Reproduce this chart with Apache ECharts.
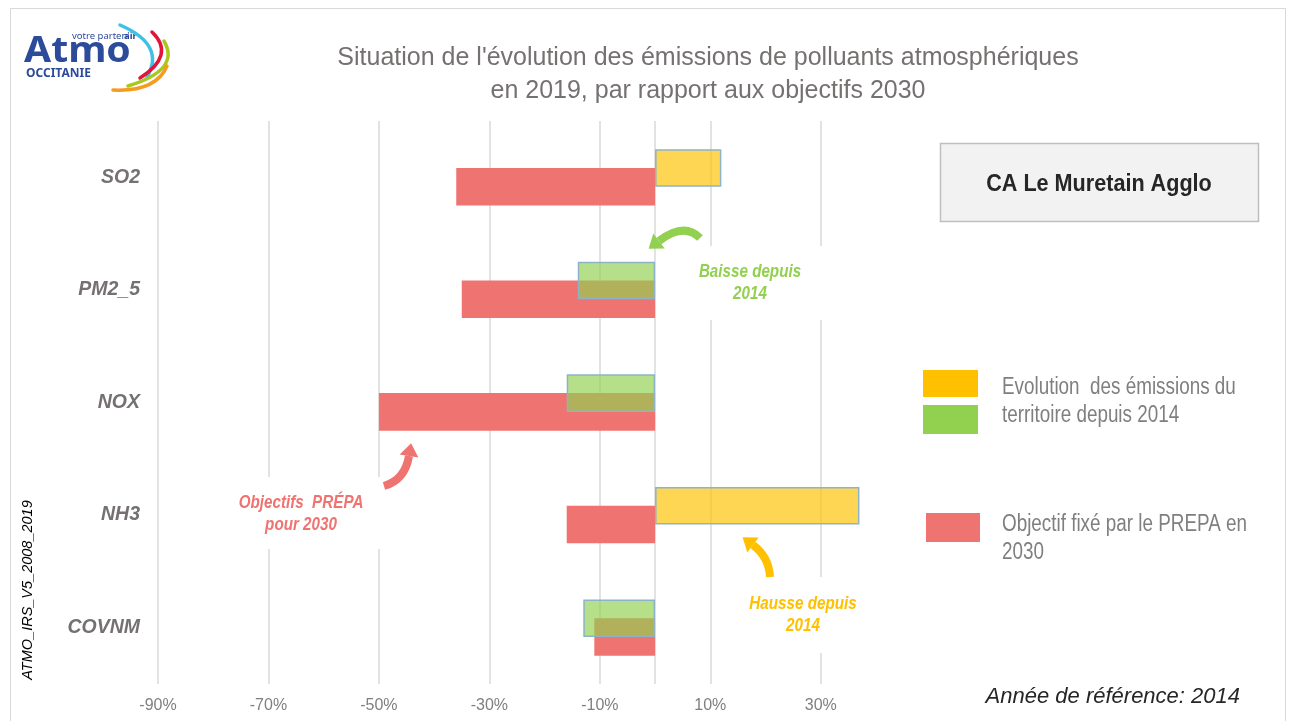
<!DOCTYPE html>
<html>
<head>
<meta charset="utf-8">
<script src="https://cdn.jsdelivr.net/npm/echarts@6/dist/echarts.min.js"></script>
<style>
html,body{margin:0;padding:0;background:#fff;}
#chart{width:1295px;height:721px;}
</style>
</head>
<body>
<div id="chart"></div>
<script>
// ---- data ----
const categories = ['SO2', 'PM2_5', 'NOX', 'NH3', 'COVNM'];
const evolution = [12, -14, -16, 37, -13];      // % change since 2014
const objectif = [-36, -35, -50, -16, -11];     // PREPA 2030 objective
const axisMin = -90, axisMax = 40, axisStep = 20;

const FONT = "'Liberation Sans', Arial, sans-serif";
const YELLOW = '#FFC000', GREEN = '#92D050', RED = '#EF7370';

function arrow(tail, ctrl, end, color, width) {
  const dx = end[0] - ctrl[0], dy = end[1] - ctrl[1];
  const L = Math.hypot(dx, dy), ux = dx / L, uy = dy / L;
  const px = -uy, py = ux, hw = 9.5, hl = 13;
  return [
    { type: 'bezierCurve', silent: true, z: 6,
      shape: { x1: tail[0], y1: tail[1], cpx1: ctrl[0], cpy1: ctrl[1], x2: end[0], y2: end[1] },
      style: { stroke: color, lineWidth: width, fill: null } },
    { type: 'polygon', silent: true, z: 6,
      shape: { points: [[end[0] + ux * hl, end[1] + uy * hl], [end[0] + px * hw, end[1] + py * hw], [end[0] - px * hw, end[1] - py * hw]] },
      style: { fill: color } }
  ];
}

function whiteBox(x, y, w, h) {
  return { type: 'rect', silent: true, z: 1, shape: { x, y, width: w, height: h }, style: { fill: '#fff' } };
}
function label(x, y, text, color, size, opts, sx) {
  return { type: 'text', silent: true, z: 7, x, y, scaleX: sx || 1,
    style: Object.assign({ text, fill: color, fontSize: size, fontFamily: FONT, align: 'center', verticalAlign: 'middle' }, opts || {}) };
}
const annot = { fontWeight: 'bold', fontStyle: 'italic' };

const graphics = [
  { type: 'rect', silent: true, z: -1, shape: { x: 10.5, y: 8.5, width: 1275, height: 730 }, style: { fill: 'none', stroke: '#D9D9D9', lineWidth: 1 } },
  // logo
  { type: 'text', silent: true, x: 24, y: 52, scaleX: 1.12, style: { text: 'Atmo', fill: '#2D4B9B', fontSize: 35, fontWeight: 'bold', fontFamily: "'Noto Sans', sans-serif", verticalAlign: 'middle' } },
  { type: 'text', silent: true, x: 72, y: 36, style: { text: "votre parten'", fill: '#2D4B9B', fontSize: 9.5, fontFamily: "'Noto Sans', sans-serif", verticalAlign: 'middle' } },
  { type: 'text', silent: true, x: 124, y: 36, style: { text: 'air', fill: '#2D4B9B', fontSize: 9.5, fontWeight: 'bold', fontFamily: "'Noto Sans', sans-serif", verticalAlign: 'middle' } },
  { type: 'text', silent: true, x: 26, y: 74, style: { text: 'OCCITANIE', fill: '#2D4B9B', fontSize: 12, fontWeight: 'bold', fontFamily: "'Noto Sans', sans-serif", verticalAlign: 'middle' } },
  { type: 'bezierCurve', silent: true, shape: { x1: 120, y1: 25, cpx1: 166, cpy1: 45, x2: 147, y2: 77 }, style: { stroke: '#3EC1E8', lineWidth: 3.5, lineCap: 'round', fill: null } },
  { type: 'bezierCurve', silent: true, shape: { x1: 152, y1: 32, cpx1: 176, cpy1: 55, x2: 140, y2: 78 }, style: { stroke: '#E3143C', lineWidth: 3.5, lineCap: 'round', fill: null } },
  { type: 'bezierCurve', silent: true, shape: { x1: 164, y1: 41, cpx1: 181, cpy1: 70, x2: 128, y2: 86 }, style: { stroke: '#A8C81E', lineWidth: 3.5, lineCap: 'round', fill: null } },
  { type: 'bezierCurve', silent: true, shape: { x1: 167, y1: 66, cpx1: 156, cpy1: 92, x2: 113, y2: 90 }, style: { stroke: '#F59B1E', lineWidth: 3.5, lineCap: 'round', fill: null } },
  // territory box
  { type: 'rect', silent: true, z: 3, shape: { x: 940.5, y: 143.5, width: 318, height: 78 }, style: { fill: '#F2F2F2', stroke: '#BFBFBF', lineWidth: 1.5 } },
  label(1099, 184, 'CA Le Muretain Agglo', '#262626', 24, { fontWeight: 'bold' }, 0.9),
  // legend
  { type: 'rect', silent: true, shape: { x: 923, y: 370, width: 55, height: 27 }, style: { fill: YELLOW } },
  { type: 'rect', silent: true, shape: { x: 923, y: 405, width: 55, height: 29 }, style: { fill: GREEN } },
  { type: 'rect', silent: true, shape: { x: 926, y: 513, width: 54, height: 29 }, style: { fill: RED } },
  label(1002, 388, 'Evolution  des émissions du', '#7F7F7F', 23, { align: 'left' }, 0.82),
  label(1002, 416, 'territoire depuis 2014', '#7F7F7F', 23, { align: 'left' }, 0.82),
  label(1002, 525, 'Objectif fixé par le PREPA en', '#7F7F7F', 23, { align: 'left' }, 0.82),
  label(1002, 553, '2030', '#7F7F7F', 23, { align: 'left' }, 0.82),
  // annotation boxes & texts
  whiteBox(690, 246, 145, 74),
  whiteBox(225, 477, 165, 72),
  whiteBox(740, 577, 128, 76),
  label(750, 272, 'Baisse depuis', GREEN, 19, annot, 0.8),
  label(750, 294, '2014', GREEN, 19, annot, 0.8),
  label(301, 503, 'Objectifs  PRÉPA', RED, 19, annot, 0.8),
  label(301, 525, 'pour 2030', RED, 19, annot, 0.8),
  label(803, 604, 'Hausse depuis', YELLOW, 19, annot, 0.8),
  label(803, 626, '2014', YELLOW, 19, annot, 0.8),
  ...arrow([700, 238], [684, 222], [659, 241], GREEN, 8),
  ...arrow([384, 486], [405, 480], [409, 456], RED, 8),
  ...arrow([770, 577], [769, 557], [753, 545], YELLOW, 8),
  // footer texts
  label(1240, 697, 'Année de référence: 2014', '#262626', 22, { align: 'right', fontStyle: 'italic' }),
  { type: 'text', silent: true, z: 7, x: 28, y: 590, rotation: Math.PI / 2,
    style: { text: 'ATMO_IRS_V5_2008_2019', fill: '#000', fontSize: 14.5, fontStyle: 'italic', fontFamily: FONT, align: 'center', verticalAlign: 'middle' } }
];

const chart = echarts.init(document.getElementById('chart'), null, { renderer: 'canvas' });
chart.setOption({
  backgroundColor: '#fff',
  animation: false,
  title: {
    text: "Situation de l'évolution des émissions de polluants atmosphériques\nen 2019, par rapport aux objectifs 2030",
    left: 703, top: 37, textAlign: 'center',
    textStyle: { color: '#767171', fontSize: 25, fontWeight: 'normal', fontFamily: FONT, lineHeight: 33 }
  },
  grid: { left: 158, right: 419, top: 121, bottom: 37, containLabel: false },
  xAxis: {
    type: 'value', min: axisMin, max: axisMax, interval: axisStep,
    axisLine: { show: false }, axisTick: { show: false },
    axisLabel: { formatter: '{value}%', color: '#7F7F7F', fontSize: 16, fontFamily: FONT, margin: 14, showMaxLabel: false },
    splitLine: { show: true, showMaxLine: false, lineStyle: { color: '#D9D9D9', width: 1.5 } }
  },
  yAxis: {
    type: 'category', data: categories, inverse: true,
    axisLine: { show: false }, axisTick: { show: false },
    axisLabel: { color: '#767171', fontSize: 19.5, fontWeight: 'bold', fontStyle: 'italic', fontFamily: FONT, margin: 18 }
  },
  series: [
    {
      name: 'Evolution des émissions du territoire depuis 2014',
      type: 'bar', z: 3, barGap: '-50%', barCategoryGap: '50%',
      data: evolution.map(v => ({ value: v, itemStyle: { color: v >= 0 ? 'rgba(255,192,0,0.67)' : 'rgba(146,208,80,0.67)' } })),
      itemStyle: { borderColor: '#8CB4C6', borderWidth: 1.5 },
      markLine: { silent: true, symbol: 'none', label: { show: false }, lineStyle: { color: '#D9D9D9', type: 'solid', width: 1.5 }, data: [{ xAxis: 0 }], z: 1 }
    },
    {
      name: 'Objectif fixé par le PREPA en 2030',
      type: 'bar', z: 2, barGap: '-50%', barCategoryGap: '50%',
      data: objectif,
      itemStyle: { color: RED }
    }
  ],
  graphic: { elements: graphics }
});
</script>
</body>
</html>
